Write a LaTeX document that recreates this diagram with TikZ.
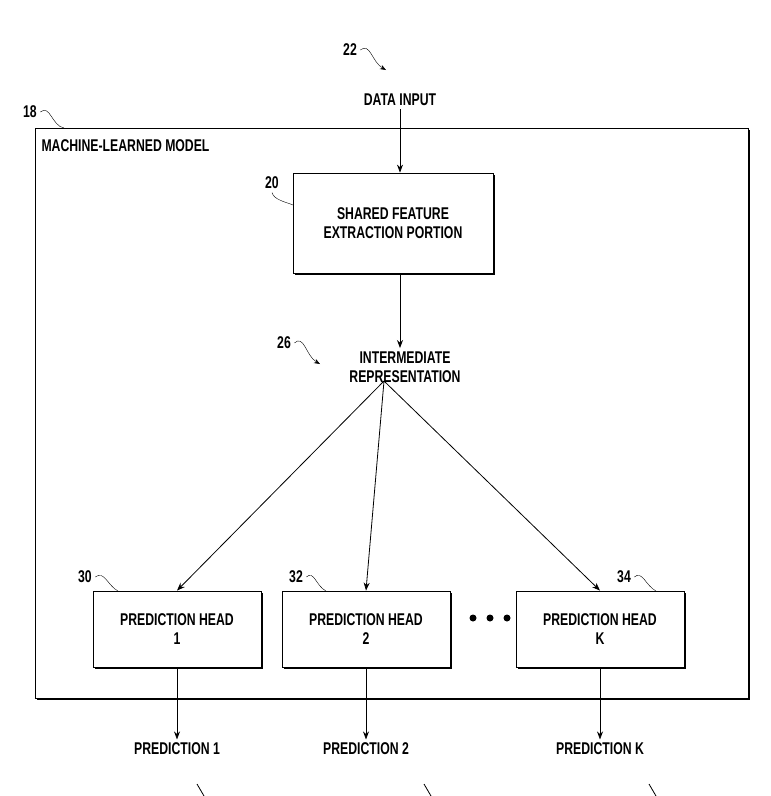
\documentclass[tikz,border=0pt]{standalone}
\usepackage{fontspec}
\setmainfont{Liberation Sans}[FakeStretch=0.72]
\usetikzlibrary{positioning,arrows.meta,shadows}

\begin{document}
\begin{tikzpicture}[x=1pt,y=-1pt,
    font=\fontsize{17}{19}\bfseries\selectfont,
    box/.style={draw=black, fill=white, thick, align=center, inner sep=0pt,
        drop shadow={opacity=1, fill=black, shadow xshift=1.6pt, shadow yshift=-1.6pt}},
    headbox/.style={box, minimum width=168pt, minimum height=76pt},
    flow/.style={-{Stealth[length=8pt,width=6pt]}, thick},
    tag/.style={font=\fontsize{17}{19}\bfseries\selectfont},
    dot/.style={circle, fill=black, inner sep=0pt, minimum size=7pt},
    curl/.style={thin}
    ]
    \useasboundingbox (0,0) rectangle (771,796);

    %Outer model
    \node[box, minimum width=713pt, minimum height=570pt, anchor=north west]
        (model) at (35,128) {};
    \node[anchor=north west] (mlabel) at (38,136) {MACHINE-LEARNED MODEL};

    %Nodes
    \node (input) at (400,100) {DATA INPUT};
    \node[box, minimum width=200pt, minimum height=100pt]
        (shared) at (393,223) {SHARED FEATURE\\EXTRACTION PORTION};
    \node[align=center] (inter) at (405,367) {INTERMEDIATE\\REPRESENTATION};
    \coordinate (split) at (384,381);

    \node[headbox] (h1) at (177,629) {PREDICTION HEAD\\1};
    \node[headbox] (h2) at (366,629) {PREDICTION HEAD\\2};
    \node[headbox] (hK) at (600,629) {PREDICTION HEAD\\K};
    \node[dot] (d1) at (473,618) {};
    \node[dot] (d2) at (490,618) {};
    \node[dot] (d3) at (507,618) {};

    \node (p1) at (177,749) {PREDICTION 1};
    \node (p2) at (366,749) {PREDICTION 2};
    \node (pK) at (600,749) {PREDICTION K};

    %Lines
    \draw[flow] (input.south) -- (input.south |- shared.north);
    \draw[flow] (input.south |- shared.south) -- (input.south |- inter.north);
    \foreach \h in {h1,h2,hK}
        \draw[flow] (split) -- (\h.north);
    \draw[flow] (h1) -- (p1);
    \draw[flow] (h2) -- (p2);
    \draw[flow] (hK) -- (pK);

    %Reference numerals
    \node[tag] (n22) at (350,50) {22};
    \draw[curl, -{Stealth[length=6pt]}] (n22.east) .. controls (370,42) and (372,62) .. (386,70);
    \node[tag] (n18) at (30,112) {18};
    \draw[curl] (n18.east) .. controls (50,104) and (52,126) .. (64,128);
    \node[tag] (n20) at (272,183) {20};
    \draw[curl] (n20.south) .. controls (274,200) and (286,202) .. (293,205);
    \node[tag] (n26) at (284,343) {26};
    \draw[curl, -{Stealth[length=6pt]}] (n26.east) .. controls (304,334) and (306,356) .. (320,364);
    \node[tag] (n30) at (85,577) {30};
    \draw[curl] (n30.east) .. controls (104,570) and (108,586) .. (118,591);
    \node[tag] (n32) at (296,577) {32};
    \draw[curl] (n32.east) .. controls (314,570) and (316,586) .. (326,591);
    \node[tag] (n34) at (624,577) {34};
    \draw[curl] (n34.east) .. controls (642,570) and (646,586) .. (656,591);

    %Cut-off leaders
    \coordinate (c1a) at (197,784); \coordinate (c1b) at (204,796);
    \coordinate (c2a) at (424,784); \coordinate (c2b) at (431,796);
    \coordinate (c3a) at (649,784); \coordinate (c3b) at (656,796);
    \draw[thick] (c1a) -- (c1b);
    \draw[thick] (c2a) -- (c2b);
    \draw[thick] (c3a) -- (c3b);
\end{tikzpicture}
\end{document}
